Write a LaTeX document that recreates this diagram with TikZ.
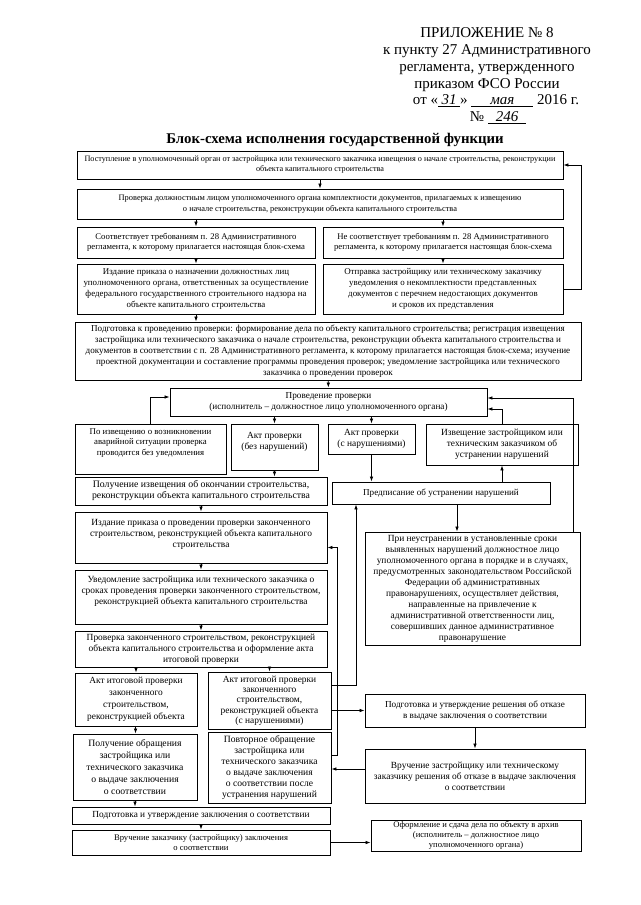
\documentclass[tikz,border=0pt]{standalone}
\usepackage{fontspec}
\setmainfont{Liberation Serif}
\usetikzlibrary{arrows.meta,positioning,calc}

\newcommand{\fs}[2]{\fontsize{#1}{#2}\selectfont}

\begin{document}
\begin{tikzpicture}[x=1pt, y=-1pt,
    bx/.style={draw, line width=0.9pt, align=center, inner sep=1pt, font=\fs{9.4}{10.9}},
    sz/.style 2 args={minimum width=#1pt, minimum height=#2pt},
    ar/.style={-{Latex[length=5pt,width=3.6pt]}, line width=0.8pt},
    hw/.style={font=\fs{15}{17}}
  ]
  \useasboundingbox (0,0) rectangle (640,905);
  % header
  \node[hw, align=center, anchor=north] (hdr) at (487,24)
    {ПРИЛОЖЕНИЕ № 8\\к пункту 27 Административного\\регламента, утвержденного\\приказом ФСО России};
  \node[hw] (date) at (496,101) {от «\underline{\makebox[22pt]{\textit{31}}}» \underline{\makebox[62pt]{\textit{мая}}} 2016 г.};
  \node[hw] (num) at (498,118) {№ \underline{\makebox[38pt]{\textit{246}}}};
  \node[font=\fs{14.8}{17}\bfseries] (ttl) at (335,140) {Блок-схема исполнения государственной функции};

  % top part
  \node[bx, sz={486}{28}, font=\fs{8.2}{10}] (b1) at (320,165)
    {Поступление в уполномоченный орган от застройщика или технического заказчика извещения о начале строительства, реконструкции\\объекта капитального строительства};
  \node[bx, sz={486}{30}, font=\fs{8.4}{10.4}] (b2) at (320,204)
    {Проверка должностным лицом уполномоченного органа комплектности документов, прилагаемых к извещению\\о начале строительства, реконструкции объекта капитального строительства};
  \node[bx, sz={238}{31}, font=\fs{8.7}{10.6}] (ok) at (196,242.5)
    {Соответствует требованиям п. 28 Административного\\регламента, к которому прилагается настоящая блок-схема};
  \node[bx, sz={240}{31}, font=\fs{8.7}{10.6}] (nok) at (443,242.5)
    {Не соответствует требованиям п. 28 Административного\\регламента, к которому прилагается настоящая блок-схема};
  \node[bx, sz={238}{50}, font=\fs{8.9}{10.8}] (ord) at (196,289)
    {Издание приказа о назначении должностных лиц\\уполномоченного органа, ответственных за осуществление\\федерального государственного строительного надзора на\\объекте капитального строительства};
  \node[bx, sz={240}{50}, font=\fs{8.9}{10.8}] (notif) at (443,289)
    {Отправка застройщику или техническому заказчику\\уведомления о некомплектности представленных\\документов с перечнем недостающих документов\\и сроков их представления};
  \node[bx, sz={506}{58}, font=\fs{9.1}{10.9}] (prep) at (328,351)
    {Подготовка к проведению проверки: формирование дела по объекту капитального строительства; регистрация извещения\\застройщика или технического заказчика о начале строительства, реконструкции объекта капитального строительства и\\документов в соответствии с п. 28 Административного регламента, к которому прилагается настоящая блок-схема; изучение\\проектной документации и составление программы проведения проверок; уведомление застройщика или технического\\заказчика о проведении проверок};

  % inspection
  \node[bx, sz={317}{28}, font=\fs{9.2}{10.8}] (chk) at (328.5,402)
    {Проведение проверки\\(исполнитель – должностное лицо уполномоченного органа)};
  \node[bx, sz={151}{50}, font=\fs{8.8}{10.8}, text depth=14pt] (emerg) at (150.5,449)
    {По извещению о возникновении\\аварийной ситуации проверка\\проводится без уведомления};
  \node[bx, sz={87}{46}, text depth=12pt] (actok) at (274.5,447)
    {Акт проверки\\(без нарушений)};
  \node[bx, sz={87}{30}] (actbad) at (371.5,439)
    {Акт проверки\\(с нарушениями)};
  \node[bx, sz={152}{41}] (note) at (502,444.5)
    {Извещение застройщиком или\\техническим заказчиком об\\устранении нарушений};
  \node[bx, sz={252}{28}, font=\fs{9.8}{11}] (recv) at (201,491)
    {Получение извещения об окончании строительства,\\реконструкции объекта капитального строительства};
  \node[bx, sz={218}{22}, font=\fs{9.1}{11}] (presc) at (441,493)
    {Предписание об устранении нарушений};
  \node[bx, sz={215}{113}, font=\fs{9.4}{11}] (fail) at (472.5,588.5)
    {При неустранении в установленные сроки\\выявленных нарушений должностное лицо\\уполномоченного органа в порядке и в случаях,\\предусмотренных законодательством Российской\\Федерации об административных\\правонарушениях, осуществляет действия,\\направленные на привлечение к\\административной ответственности лиц,\\совершивших данное административное\\правонарушение};

  % final inspection
  \node[bx, sz={252}{51}, text depth=8pt] (ord2) at (201,537.5)
    {Издание приказа о проведении проверки законченного\\строительством, реконструкцией объекта капитального\\строительства};
  \node[bx, sz={252}{54}, text depth=14pt] (inform) at (201,597)
    {Уведомление застройщика или технического заказчика о\\сроках проведения проверки законченного строительством,\\реконструкцией объекта капитального строительства};
  \node[bx, sz={252}{36}] (final) at (201,649)
    {Проверка законченного строительством, реконструкцией\\объекта капитального строительства и оформление акта\\итоговой проверки};
  \node[bx, sz={122}{53}, font=\fs{9.4}{12}] (aok) at (136,699.5)
    {Акт итоговой проверки\\законченного\\строительством,\\реконструкцией объекта};
  \node[bx, sz={123}{57}, font=\fs{9.4}{10.3}] (abad) at (269.5,700.5)
    {Акт итоговой проверки\\законченного\\строительством,\\реконструкцией объекта\\(с нарушениями)};
  \node[bx, sz={220}{33}, font=\fs{9.2}{11}] (refuse) at (475,710.5)
    {Подготовка и утверждение решения об отказе\\в выдаче заключения о соответствии};
  \node[bx, sz={220}{54}, font=\fs{9.4}{11}] (hand) at (475,776)
    {Вручение застройщику или техническому\\заказчику решения об отказе в выдаче заключения\\о соответствии};
  \node[bx, sz={124}{66}, font=\fs{9.7}{12}] (appeal) at (135,767)
    {Получение обращения\\застройщика или\\технического заказчика\\о выдаче заключения\\о соответствии};
  \node[bx, sz={123}{71}, font=\fs{9.6}{11}] (reapp) at (269.5,767.5)
    {Повторное обращение\\застройщика или\\технического заказчика\\о выдаче заключения\\о соответствии после\\устранения нарушений};
  \node[bx, sz={258}{17}, font=\fs{9.3}{11}] (concl) at (201,815.5)
    {Подготовка и утверждение заключения о соответствии};
  \node[bx, sz={258}{25}, font=\fs{8.6}{10}] (deliv) at (201,842.5)
    {Вручение заказчику (застройщику) заключения\\о соответствии};
  \node[bx, sz={210}{31}, font=\fs{8.6}{10}] (arch) at (476,835.5)
    {Оформление и сдача дела по объекту в архив\\(исполнитель – должностное лицо\\уполномоченного органа)};

  % connectors
  \draw[ar] (b1) -- (b2);
  \draw[ar] (ok.north |- b2.south) -- (ok);
  \draw[ar] (nok.north |- b2.south) -- (nok);
  \draw[ar] (ok) -- (ord);
  \draw[ar] (nok) -- (notif);
  \draw[ar] (notif.east) -- (prep.east |- notif.east) |- (b1.east);
  \draw[ar] (ord.south) -- (ord.south |- prep.north);
  \draw[ar] (prep) -- (chk);
  \draw[ar] (actok.north |- chk.south) -- (actok);
  \draw[ar] (actbad.north |- chk.south) -- (actbad);
  \draw[ar] (emerg.north) |- ([yshift=5pt]chk.west);
  \draw[ar] (actok.south) -- (actok.south |- recv.north);
  \draw[ar] (actbad.south) -- (actbad.south |- presc.north);
  \draw[ar] (note.south |- presc.north) -- (note);
  \draw[ar] (note.north) |- ([yshift=-7pt]chk.east);
  \draw[ar] ([xshift=-7pt]fail.north east) |- ([yshift=4pt]chk.east);
  \draw[ar] ([xshift=16pt]presc.south) -- ([xshift=16pt]presc.south |- fail.north);
  \draw[ar] (recv) -- (ord2);
  \draw[ar] (ord2) -- (inform);
  \draw[ar] (inform) -- (final);
  \draw[ar] (aok.north |- final.south) -- (aok);
  \draw[ar] (abad.north |- final.south) -- (abad);
  \draw[ar] ([yshift=15.5pt]abad.east) -| ([xshift=-85pt]presc.south);
  \draw[ar] (abad.east |- refuse.west) -- (refuse);
  \draw[ar] (refuse) -- (hand);
  \draw[ar] ([yshift=7pt]hand.west) -- ([yshift=7pt]hand.west -| reapp.east);
  \draw[ar] ([yshift=12.5pt]reapp.east) -- ++(6,0) |- ([yshift=-10pt]ord2.east);
  \draw[ar] (aok) -- (appeal);
  \draw[ar] (appeal.south) -- (appeal.south |- concl.north);
  \draw[ar] (concl) -- (deliv);
  \draw[ar] (deliv.east) -- (deliv.east -| arch.west);
\end{tikzpicture}
\end{document}
